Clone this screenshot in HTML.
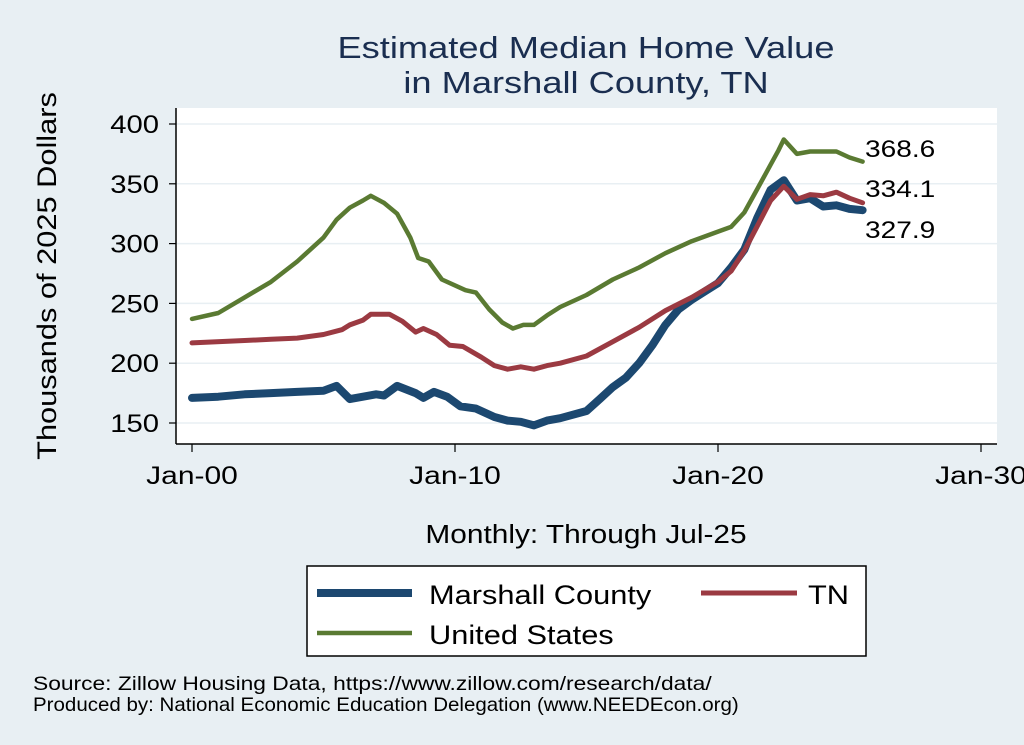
<!DOCTYPE html>
<html><head><meta charset="utf-8"><style>
body{margin:0;background:#e8eff3;}
svg{display:block;font-family:"Liberation Sans",sans-serif;}
</style></head><body>
<svg width="1024" height="745" viewBox="0 0 1024 745">
<rect x="0" y="0" width="1024" height="745" fill="#e8eff3"/>
<text transform="translate(586,58) scale(1.17,1)" font-size="31" fill="#1a2e50" text-anchor="middle">Estimated Median Home Value</text>
<text transform="translate(586,93) scale(1.17,1)" font-size="31" fill="#1a2e50" text-anchor="middle">in Marshall County, TN</text>
<rect x="176" y="108" width="821" height="336" fill="#ffffff"/>
<g id="grid"></g>
<g id="axes"></g>
<g id="series"></g>
<g id="labels"></g>
<text transform="translate(56,276) rotate(-90) scale(1.14,1)" font-size="27" fill="#000" text-anchor="middle">Thousands of 2025 Dollars</text>
<text transform="translate(586,543) scale(1.17,1)" font-size="25.5" fill="#000" text-anchor="middle">Monthly: Through Jul-25</text>
<g>
<rect x="307" y="566" width="559" height="90" fill="#fff" stroke="#000" stroke-width="1.5"/>
<line x1="317" y1="593" x2="412" y2="593" stroke="#1c4870" stroke-width="8"/>
<text transform="translate(429,604) scale(1.14,1)" font-size="27">Marshall County</text>
<line x1="701" y1="593" x2="797" y2="593" stroke="#9b3a42" stroke-width="5"/>
<text transform="translate(808,604) scale(1.14,1)" font-size="27">TN</text>
<line x1="317" y1="633" x2="412" y2="633" stroke="#5a7a32" stroke-width="4.5"/>
<text transform="translate(429,644) scale(1.14,1)" font-size="27">United States</text>
</g>
<text transform="translate(33,690) scale(1.2,1)" font-size="19">Source: Zillow Housing Data, https://www.zillow.com/research/data/</text>
<text transform="translate(33,711) scale(1.08,1)" font-size="19">Produced by: National Economic Education Delegation (www.NEEDEcon.org)</text>
</svg>
<script>
const yTicks=[150,200,250,300,350,400];
const xTickYears=[2000,2010,2020,2030];
const xTickLabels=["Jan-00","Jan-10","Jan-20","Jan-30"];
const usYears=[2000,2001,2002,2003,2004,2005,2005.5,2006,2006.5,2006.8,2007.3,2007.8,2008.3,2008.6,2009,2009.5,2010.4,2010.8,2011.3,2011.8,2012.2,2012.6,2013,2013.5,2014,2015,2016,2017,2018,2019,2020,2020.5,2021,2021.5,2022,2022.3,2022.5,2023,2023.5,2024,2024.5,2025,2025.5];
const usValues=[237,242,255,268,285,305,320,330,336,340,334,325,305,288,285,270,261,259,245,234,229,232,232,240,247,257,270,280,292,302,310,314,326,346,366,378,387,375,377,377,377,372,368.6];
const tnYears=[2000,2002,2003,2004,2005,2005.7,2006,2006.5,2006.8,2007.5,2008,2008.5,2008.8,2009.3,2009.8,2010.3,2011,2011.5,2012,2012.5,2013,2013.5,2014,2015,2016,2017,2018,2019,2020,2020.5,2021,2021.5,2022,2022.5,2023,2023.5,2024,2024.5,2025,2025.5];
const tnValues=[217,219,220,221,224,228,232,236,241,241,235,226,229,224,215,214,205,198,195,197,195,198,200,206,218,230,244,255,268,277,294,315,336,348,337,341,340,343,338,334.1];
const mcYears=[2000,2001,2002,2003,2004,2005,2005.5,2006,2006.5,2007,2007.3,2007.8,2008.5,2008.8,2009.2,2009.7,2010.2,2010.8,2011.5,2012,2012.5,2013,2013.5,2014,2015,2015.5,2016,2016.5,2017,2017.5,2018,2018.5,2019,2019.5,2020,2020.5,2021,2021.5,2022,2022.5,2023,2023.5,2024,2024.5,2025,2025.5];
const mcValues=[171,172,174,175,176,177,181,170,172,174,173,181,175,171,176,172,164,162,155,152,151,148,152,154,160,170,180,188,200,215,232,245,253,260,267,280,295,322,345,353,336,338,331,332,329,327.9];
const endLabels=["368.6","334.1","327.9"];
const NS="http://www.w3.org/2000/svg";
function xS(yr){return 192+(yr-2000)*26.3;}
function yS(v){return 423-(v-150)*59.8/50;}
function mk(tag,attrs,parent){const e=document.createElementNS(NS,tag);for(const k in attrs)e.setAttribute(k,attrs[k]);document.getElementById(parent).appendChild(e);return e;}
yTicks.forEach(v=>{
  const g=mk('line',{x1:176,x2:997,y1:yS(v),y2:yS(v),stroke:'#e8eff3','stroke-width':1.5},'grid');
  
  
  const t=mk('line',{x1:169,x2:176,y1:yS(v),y2:yS(v),stroke:'#000','stroke-width':1.2},'axes');
  
  
  const l=mk('text',{transform:'translate(159,'+(yS(v)+9)+') scale(1.17,1)','font-size':25,'text-anchor':'end'},'axes');
  l.textContent=v;
  
  
});
const ya=mk('line',{x1:176,x2:176,y1:108,y2:444,stroke:'#000','stroke-width':1.5},'axes');


const xa=mk('line',{x1:176,x2:997,y1:444,y2:444,stroke:'#000','stroke-width':1.5},'axes');


xTickYears.forEach((yr,i)=>{
  const t=mk('line',{x1:xS(yr),x2:xS(yr),y1:444,y2:452,stroke:'#000','stroke-width':1.2},'axes');
  
  
  const l=mk('text',{transform:'translate('+xS(yr)+',484) scale(1.2,1)','font-size':25,'text-anchor':'middle'},'axes');
  l.textContent=xTickLabels[i];
  
  
});
function line(xs,vs,color,w,name){
  const d=xs.map((x,i)=>(i?'L':'M')+xS(x).toFixed(1)+','+yS(vs[i]).toFixed(1)).join('');
  const p=mk('path',{d:d,fill:'none',stroke:color,'stroke-width':w,'stroke-linejoin':'round','stroke-linecap':'round'},'series');
  
  
}
line(usYears,usValues,'#5a7a32',4.5,'line-united-states');
line(mcYears,mcValues,'#1c4870',8,'line-marshall-county');
line(tnYears,tnValues,'#9b3a42',5,'line-tn');
const lab=[148,188,229];
lab.forEach((yy,i)=>{
  const t=mk('text',{transform:'translate(865,'+(yy+9)+') scale(1.17,1)','font-size':24},'labels');
  t.textContent=endLabels[i];
  
  
});
</script>
</body></html>
